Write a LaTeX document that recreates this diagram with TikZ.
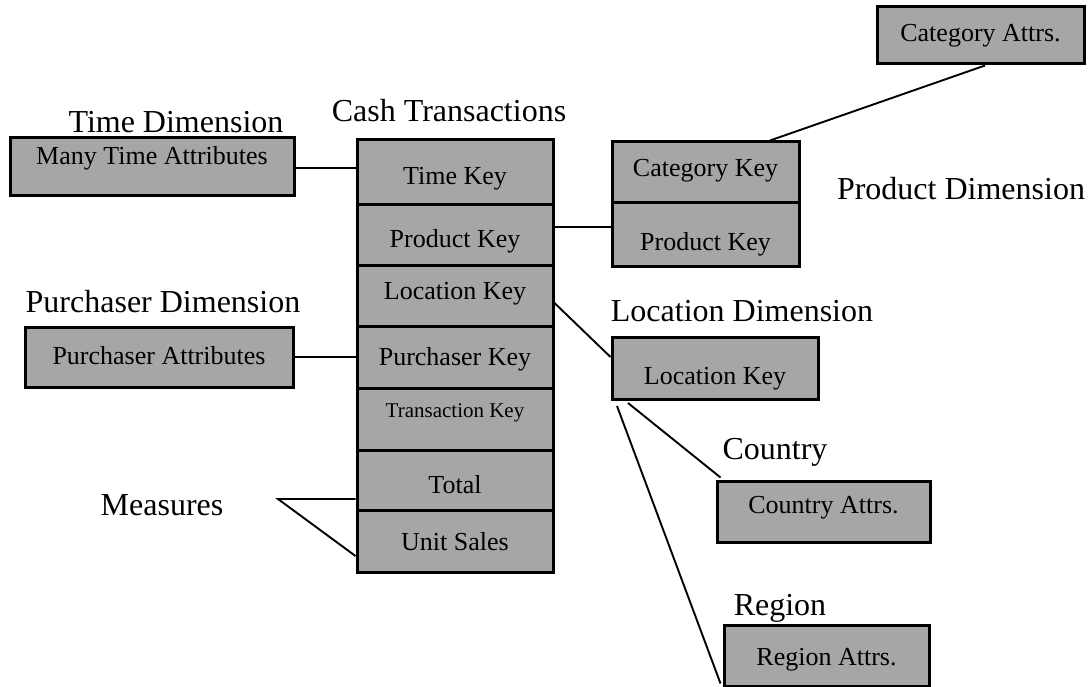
\documentclass[tikz,border=0pt]{standalone}
\usepackage{fontspec}
\setmainfont{Liberation Serif}
\definecolor{boxgray}{RGB}{166,166,166}
\newcommand{\lblfont}{\fontsize{32pt}{37pt}\selectfont}
\newcommand{\bxfont}{\fontsize{26pt}{31pt}\selectfont}
\newcommand{\smbxfont}{\fontsize{21pt}{25pt}\selectfont}
\begin{document}
\begin{tikzpicture}[x=1pt,y=-1pt,
  box/.style={draw=black, line width=3pt, fill=boxgray, rectangle, inner sep=0pt, font=\bxfont, text depth=10pt},
  th/.style={text height=#1},
  lbl/.style={inner sep=0pt, font=\lblfont},
  conn/.style={draw=black, line width=1.9pt}]
\useasboundingbox (0,0) rectangle (1091,687);
% labels
\node[lbl] (tdim) at (176,122) {Time Dimension};
\node[lbl] (cash) at (449,111) {Cash Transactions};
\node[lbl] (pdim) at (961,189) {Product Dimension};
\node[lbl] (ldim) at (742,311) {Location Dimension};
\node[lbl] (udim) at (163,302) {Purchaser Dimension};
\node[lbl] (meas) at (162,505) {Measures};
\node[lbl] (ctry) at (775,452) {Country};
\node[lbl] (regn) at (780,608) {Region};
% dimension boxes
\node[box, th=6pt, minimum width=284pt, minimum height=57pt] (tattr) at (152,166.5) {Many Time Attributes};
\node[box, th=24pt, minimum width=268pt, minimum height=60pt] (pattr) at (159,357) {Purchaser Attributes};
\node[box, th=18pt, minimum width=187pt, minimum height=60pt] (catkey) at (705.5,172) {Category Key};
\node[box, th=42pt, minimum width=187pt, minimum height=64pt] (prodkey) at (705.5,234) {Product Key};
\node[box, th=23pt, minimum width=207pt, minimum height=57pt] (catattr) at (980.5,35.5) {Category Attrs.};
\node[box, th=42pt, minimum width=206pt, minimum height=62pt] (lockey) at (715,368) {Location Key};
\node[box, th=13pt, minimum width=213pt, minimum height=61pt] (ctryattr) at (823.5,511.5) {Country Attrs.};
\node[box, th=30pt, minimum width=205pt, minimum height=61pt] (regattr) at (826.5,655.5) {Region Attrs.};
% fact table
\node[box, th=36pt, minimum width=196pt, minimum height=64pt] (time) at (455,172) {Time Key};
\node[box, th=35pt, minimum width=196pt, minimum height=61pt] (prod) at (455,234.5) {Product Key};
\node[box, th=18pt, minimum width=196pt, minimum height=61pt] (loc) at (455,295.5) {Location Key};
\node[box, th=26pt, minimum width=196pt, minimum height=62pt] (purch) at (455,357) {Purchaser Key};
\node[box, th=6pt, minimum width=196pt, minimum height=62pt, font=\smbxfont] (trans) at (455,419) {Transaction Key};
\node[box, th=36pt, minimum width=196pt, minimum height=60pt] (total) at (455,480) {Total};
\node[box, th=28pt, minimum width=196pt, minimum height=62pt] (unit) at (455,541) {Unit Sales};
% connectors
\draw[conn] ([yshift=-1.5pt]tattr.east) -- ([yshift=-1.5pt]tattr.east -| time.west);
\draw[conn] ([yshift=7.5pt]prod.east) -- ([yshift=7.5pt]prod.east -| prodkey.west);
\draw[conn] ([xshift=4.5pt]catattr.south) -- ([xshift=64.5pt]catkey.north);
\draw[conn] ([yshift=-7.5pt]loc.east) -- ([yshift=11pt]lockey.west);
\draw[conn] (pattr.east) -- (pattr.east -| purch.west);
\coordinate (cstart) at (628,403);
\coordinate (rstart) at (617,406);
\draw[conn] (cstart) -- ([xshift=5pt,yshift=2pt]ctryattr.north west);
\draw[conn] (rstart) -- ([xshift=-2pt,yshift=4pt]regattr.south west);
\coordinate (mv) at (278,499);
\draw[conn] (total.west |- mv) -- (mv) -- ([yshift=-15pt]unit.west);
\end{tikzpicture}
\end{document}
